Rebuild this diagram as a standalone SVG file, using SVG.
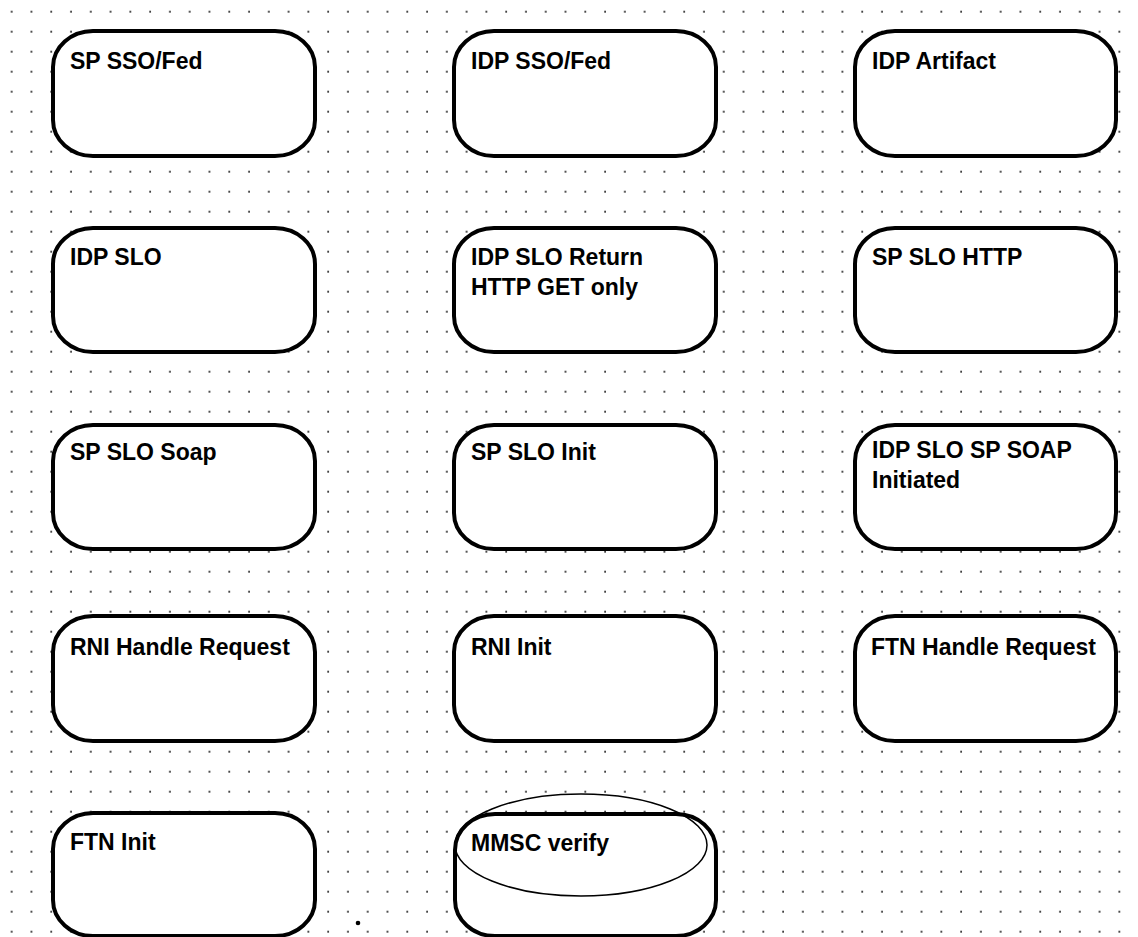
<svg xmlns="http://www.w3.org/2000/svg" width="1138" height="937" viewBox="0 0 1138 937">
  <style>
    .box { fill: #ffffff; stroke: #000000; stroke-width: 4; }
    .lbl { font-family: "Liberation Sans", Arial, sans-serif; font-size: 23px; fill: #000000; font-weight: bold; }
    .ell { fill: none; stroke: #000000; stroke-width: 1.5; }
  </style>
  <defs>
    <pattern id="grid" x="1.7" y="1.7" width="19.78" height="20" patternUnits="userSpaceOnUse">
      <circle cx="10" cy="10" r="0.95" fill="#111111"/>
    </pattern>
  </defs>
  <rect x="0" y="0" width="1138" height="937" fill="#ffffff"/>
  <rect x="0" y="0" width="1138" height="937" fill="url(#grid)"/>
  <circle cx="358" cy="923" r="2.3" fill="#000000"/>

  <g id="connectors"></g>

  <g id="sp-sso-fed">
    <rect class="box" x="53" y="31" width="262" height="125" rx="40" ry="36"/>
    <text class="lbl" x="70" y="69">SP SSO/Fed</text>
  </g>
  <g id="idp-sso-fed">
    <rect class="box" x="454" y="31" width="262" height="125" rx="40" ry="36"/>
    <text class="lbl" x="471" y="69">IDP SSO/Fed</text>
  </g>
  <g id="idp-artifact">
    <rect class="box" x="855" y="31" width="261" height="125" rx="40" ry="36"/>
    <text class="lbl" x="872" y="69">IDP Artifact</text>
  </g>

  <g id="idp-slo">
    <rect class="box" x="53" y="228" width="262" height="124" rx="40" ry="36"/>
    <text class="lbl" x="70" y="265">IDP SLO</text>
  </g>
  <g id="idp-slo-return">
    <rect class="box" x="454" y="228" width="262" height="124" rx="40" ry="36"/>
    <text class="lbl" x="471" y="265">IDP SLO Return</text>
    <text class="lbl" x="471" y="295">HTTP GET only</text>
  </g>
  <g id="sp-slo-http">
    <rect class="box" x="855" y="228" width="261" height="124" rx="40" ry="36"/>
    <text class="lbl" x="872" y="265">SP SLO HTTP</text>
  </g>

  <g id="sp-slo-soap">
    <rect class="box" x="53" y="425" width="262" height="124" rx="40" ry="36"/>
    <text class="lbl" x="70" y="460">SP SLO Soap</text>
  </g>
  <g id="sp-slo-init">
    <rect class="box" x="454" y="425" width="262" height="124" rx="40" ry="36"/>
    <text class="lbl" x="471" y="460">SP SLO Init</text>
  </g>
  <g id="idp-slo-sp-soap">
    <rect class="box" x="855" y="425" width="261" height="124" rx="40" ry="36"/>
    <text class="lbl" x="872" y="458">IDP SLO SP SOAP</text>
    <text class="lbl" x="872" y="488">Initiated</text>
  </g>

  <g id="rni-handle-request">
    <rect class="box" x="53" y="616" width="262" height="125" rx="40" ry="36"/>
    <text class="lbl" x="70" y="655">RNI Handle Request</text>
  </g>
  <g id="rni-init">
    <rect class="box" x="454" y="616" width="262" height="125" rx="40" ry="36"/>
    <text class="lbl" x="471" y="655">RNI Init</text>
  </g>
  <g id="ftn-handle-request">
    <rect class="box" x="855" y="616" width="261" height="125" rx="40" ry="36"/>
    <text class="lbl" x="871" y="655">FTN Handle Request</text>
  </g>

  <g id="ftn-init">
    <rect class="box" x="53" y="813" width="262" height="123" rx="40" ry="36"/>
    <text class="lbl" x="70" y="850">FTN Init</text>
  </g>
  <g id="mmsc-verify">
    <rect class="box" x="455" y="814" width="261" height="122" rx="40" ry="36"/>
    <ellipse class="ell" cx="581" cy="845" rx="126" ry="51"/>
    <text class="lbl" x="471" y="851">MMSC verify</text>
  </g>
</svg>
